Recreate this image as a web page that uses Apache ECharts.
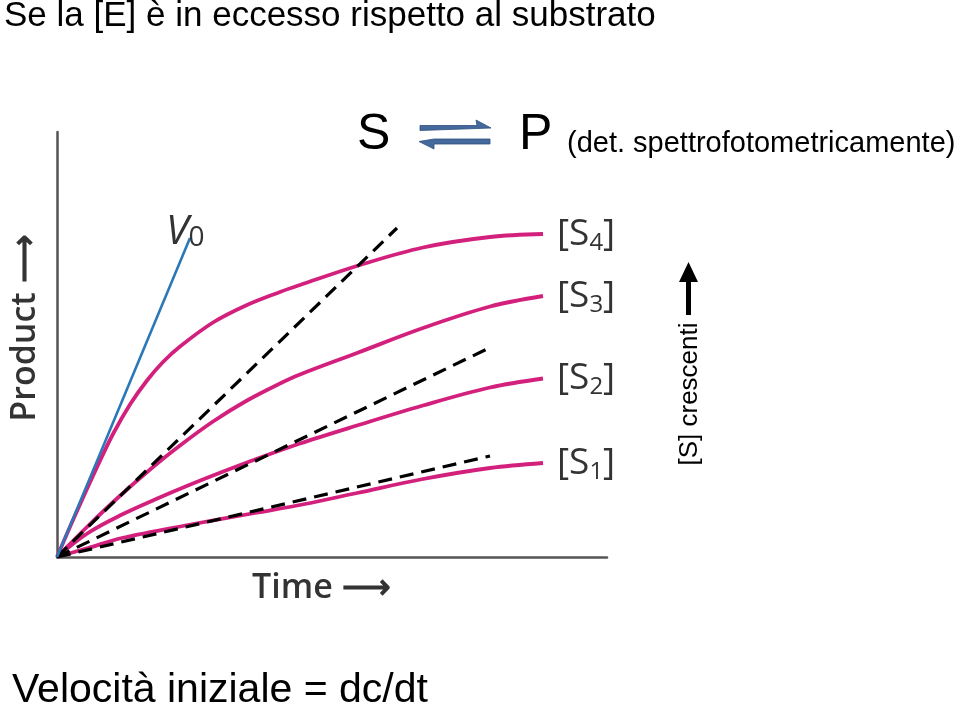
<!DOCTYPE html>
<html><head><meta charset="utf-8">
<script src="https://cdn.jsdelivr.net/npm/echarts@6/dist/echarts.min.js"></script>
<style>html,body{margin:0;padding:0;background:#fff}#c{width:960px;height:710px}</style>
</head><body><div id="c"></div>
<script>
// Product vs time curves for increasing substrate concentrations (arbitrary units)
const curveS4 = [[0,0],[0.36,0.83],[0.82,1.84],[1.12,2.46],[1.46,3.05],[1.8,3.53],[2.12,3.9],[2.46,4.21],[3.12,4.69],[3.8,5.04],[4.46,5.3],[4.86,5.44],[6.06,5.84],[7.32,6.19],[8.66,6.4],[9.72,6.46]];
const curveS3 = [[0,0],[0.62,0.62],[1.2,1.17],[1.92,1.8],[2.46,2.23],[3.12,2.71],[3.8,3.13],[4.46,3.47],[4.86,3.65],[6.0,4.08],[7.32,4.58],[8.66,5.01],[9.72,5.22]];
const curveS2 = [[0,0],[0.62,0.48],[1.3,0.85],[1.96,1.15],[2.62,1.43],[3.3,1.7],[3.96,1.95],[4.86,2.27],[6.0,2.63],[7.32,3.03],[8.66,3.39],[9.72,3.57]];
const curveS1 = [[0,0],[0.62,0.18],[1.3,0.38],[2.62,0.64],[3.96,0.88],[4.96,1.06],[6.0,1.28],[7.32,1.56],[8.66,1.78],[9.72,1.88]];
// Initial-rate (tangent) lines
const v0Line = [[0,0],[2.66,6.38]];
const dashA = [[0,0],[6.8,6.58]];
const dashB = [[0,0],[8.6,4.16]];
const dashC = [[0,0],[8.66,2.02]];
const curveSubs = ['4','3','2','1'];
const xMax = 11, yMax = 8.5;

const chart = echarts.init(document.getElementById('c'));
const magenta = '#d2207c';
const sans = 'Open Sans';
const grey = '#333';

function curveSeries(data, sub) {
  return {
    type: 'line', data, smooth: 0.35, showSymbol: false, silent: true, z: 3,
    lineStyle: { color: magenta, width: 3.8 },
    endLabel: {
      show: true, distance: 14,
      formatter: '{b|[S}{s|' + sub + '}{b|]}',
      rich: {
        b: { fontFamily: sans, fontSize: 37, color: grey, lineHeight: 42, verticalAlign: 'middle' },
        s: { fontFamily: sans, fontSize: 24, color: grey, lineHeight: 24, verticalAlign: 'bottom' }
      }
    }
  };
}
function dashSeries(data) {
  return {
    type: 'line', data, showSymbol: false, silent: true, z: 4,
    lineStyle: { color: '#000', width: 3.2, type: [14, 8] }
  };
}

const option = {
  animation: false,
  grid: { left: 57, top: 132, width: 550, height: 425 },
  xAxis: { type: 'value', min: 0, max: xMax, axisLabel: { show: false }, axisTick: { show: false }, splitLine: { show: false },
    axisLine: { onZero: false, lineStyle: { color: '#555', width: 2.5 } } },
  yAxis: { type: 'value', min: 0, max: yMax, axisLabel: { show: false }, axisTick: { show: false }, splitLine: { show: false },
    axisLine: { show: true, onZero: false, lineStyle: { color: '#555', width: 2.5 } } },
  series: [
    curveSeries(curveS4, curveSubs[0]),
    curveSeries(curveS3, curveSubs[1]),
    curveSeries(curveS2, curveSubs[2]),
    curveSeries(curveS1, curveSubs[3]),
    dashSeries(dashA), dashSeries(dashB), dashSeries(dashC),
    {
      type: 'line', data: v0Line, showSymbol: false, silent: true, z: 5,
      lineStyle: { color: '#2a78b8', width: 2.6 },
      endLabel: {
        show: true, distance: 0, offset: [-24, -6],
        formatter: '{v|V}{z|0}',
        rich: {
          v: { fontFamily: sans, fontStyle: 'italic', fontSize: 41, color: grey, lineHeight: 40, verticalAlign: 'middle' },
          z: { fontFamily: sans, fontSize: 28, color: grey, lineHeight: 27, verticalAlign: 'bottom' }
        }
      }
    }
  ],
  graphic: [
    { type: 'text', x: 4, y: 16, style: { text: 'Se la [E] è in eccesso rispetto al substrato', font: '35px "Liberation Sans"', fill: '#000', verticalAlign: 'middle' } },
    { type: 'text', x: 357, y: 135, style: { text: 'S', font: '50px "Liberation Sans"', fill: '#000', verticalAlign: 'middle' } },
    { type: 'text', x: 519, y: 135, style: { text: 'P', font: '50px "Liberation Sans"', fill: '#000', verticalAlign: 'middle' } },
    { type: 'text', x: 567, y: 144, style: { text: '(det. spettrofotometricamente)', font: '29px "Liberation Sans"', fill: '#000', verticalAlign: 'middle' } },
    { type: 'polygon', shape: { points: [[420,125.5],[477,125.5],[476,120],[491,128],[420,130.5]] }, style: { fill: '#45699c', stroke: '#2f4f7f', lineWidth: 0.8 } },
    { type: 'polygon', shape: { points: [[490,139],[490,144],[434,144],[434,149],[419,141.5],[434,139]] }, style: { fill: '#45699c', stroke: '#2f4f7f', lineWidth: 0.8 } },
    { type: 'text', x: 25, y: 328, rotation: Math.PI / 2, style: { text: 'Product ⟶', font: '600 34px "Open Sans"', fill: grey, align: 'center', verticalAlign: 'middle' } },
    { type: 'text', x: 252, y: 588, style: { text: 'Time ⟶', font: '600 34px "Open Sans"', fill: grey, align: 'left', verticalAlign: 'middle' } },
    { type: 'text', x: 690, y: 394, rotation: Math.PI / 2, style: { text: '[S] crescenti', font: '26px "Liberation Sans"', fill: '#000', align: 'center', verticalAlign: 'middle' } },
    { type: 'polygon', shape: { points: [[686,315],[686,282],[679,282],[688.5,262],[698,282],[691,282],[691,315]] }, style: { fill: '#000' } },
    { type: 'text', x: 12, y: 691, style: { text: 'Velocità iniziale = dc/dt', font: '41px "Liberation Sans"', fill: '#000', verticalAlign: 'middle' } }
  ]
};
chart.setOption(option);
</script>
</body></html>
